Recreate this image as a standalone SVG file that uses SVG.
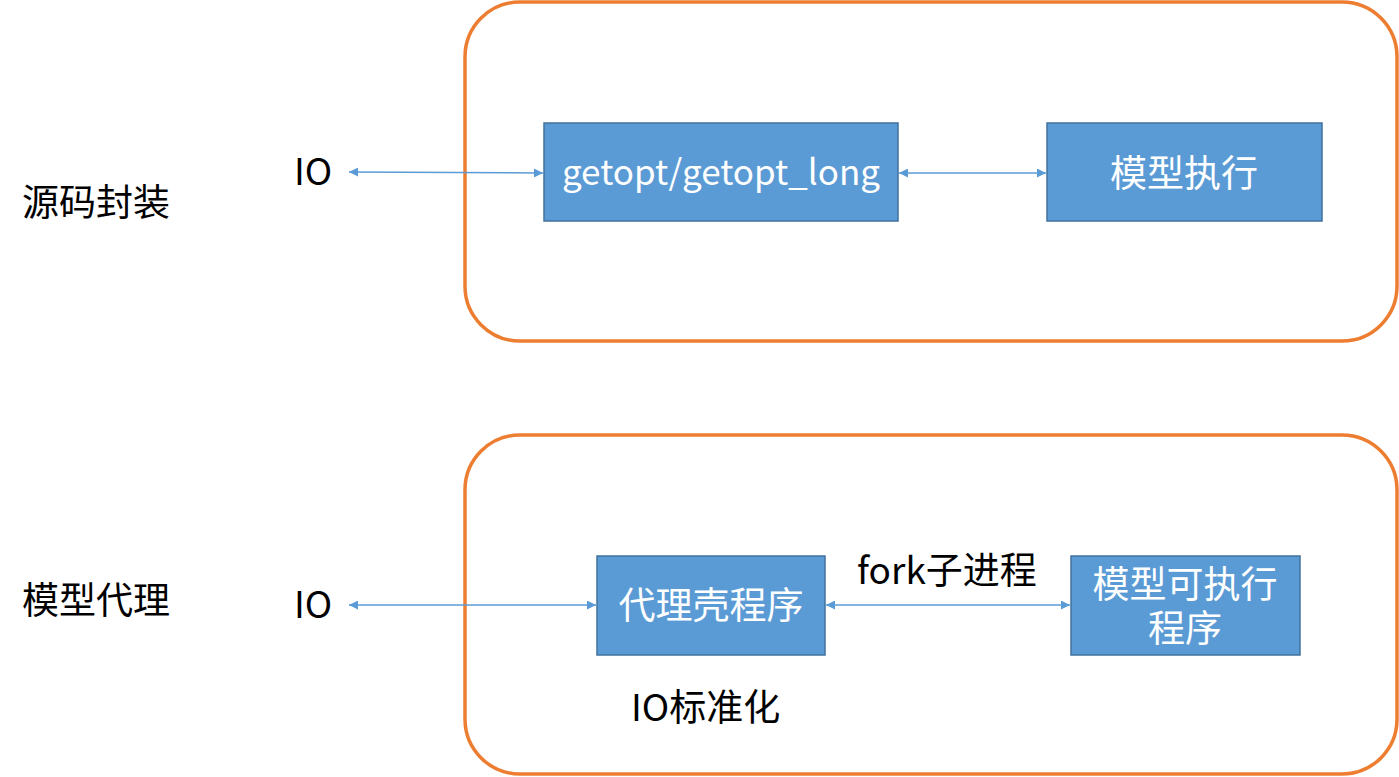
<svg xmlns="http://www.w3.org/2000/svg" width="1399" height="777" viewBox="0 0 1399 777">
<style>
.cont{fill:none;stroke:#ED7D31;stroke-width:3.5}
.box{fill:#5B9BD5;stroke:#41719C;stroke-width:1.5}
.bt{fill:#fff;font-family:"Noto Sans CJK SC","Noto Sans",sans-serif;font-size:37px;text-anchor:middle}
.t{fill:#000;font-family:"Noto Sans CJK SC","Noto Sans",sans-serif;font-size:37px}
.c{stroke:#5B9BD5;stroke-width:1.5;fill:none;marker-start:url(#a);marker-end:url(#a)}
</style>
<defs>
<marker id="a" viewBox="0 0 10 10" refX="10" refY="5" markerWidth="9" markerHeight="9" orient="auto-start-reverse" markerUnits="userSpaceOnUse"><path d="M0,0 L10,5 L0,10 z" fill="#5B9BD5"/></marker>
</defs>
<g id="container1"><rect class="cont" x="465" y="2" width="932" height="339" rx="55"/></g>
<g id="container2"><rect class="cont" x="465" y="435" width="932" height="339" rx="55"/></g>
<g id="label1"><text class="t" x="22" y="216">源码封装</text></g>
<g id="label2"><text class="t" x="22" y="614">模型代理</text></g>
<g id="io1"><text class="t" x="294" y="185">IO</text></g>
<g id="io2"><text class="t" x="294" y="618">IO</text></g>
<g id="getopt"><rect class="box" x="544" y="123" width="354" height="98"/><text class="bt" x="721" y="185" style="font-size:35px">getopt/getopt_long</text></g>
<g id="exec"><rect class="box" x="1047" y="123" width="275" height="98"/><text class="bt" x="1184" y="187">模型执行</text></g>
<g id="proxy"><rect class="box" x="597" y="556" width="228" height="99"/><text class="bt" x="711" y="619">代理壳程序</text></g>
<g id="modelexe"><rect class="box" x="1071" y="556" width="229" height="99"/><text class="bt" x="1185" y="598">模型可执行<tspan x="1185" dy="44">程序</tspan></text></g>
<g id="connectors">
<line class="c" x1="349" y1="172" x2="543" y2="173"/>
<line class="c" x1="899" y1="173" x2="1046" y2="173"/>
<line class="c" x1="349" y1="605" x2="596" y2="605"/>
<line class="c" x1="826" y1="605" x2="1070" y2="605"/>
</g>
<g id="labels">
<text class="t" x="857" y="584">fork子进程</text>
<text class="t" x="631" y="721">IO标准化</text>
</g>
</svg>
